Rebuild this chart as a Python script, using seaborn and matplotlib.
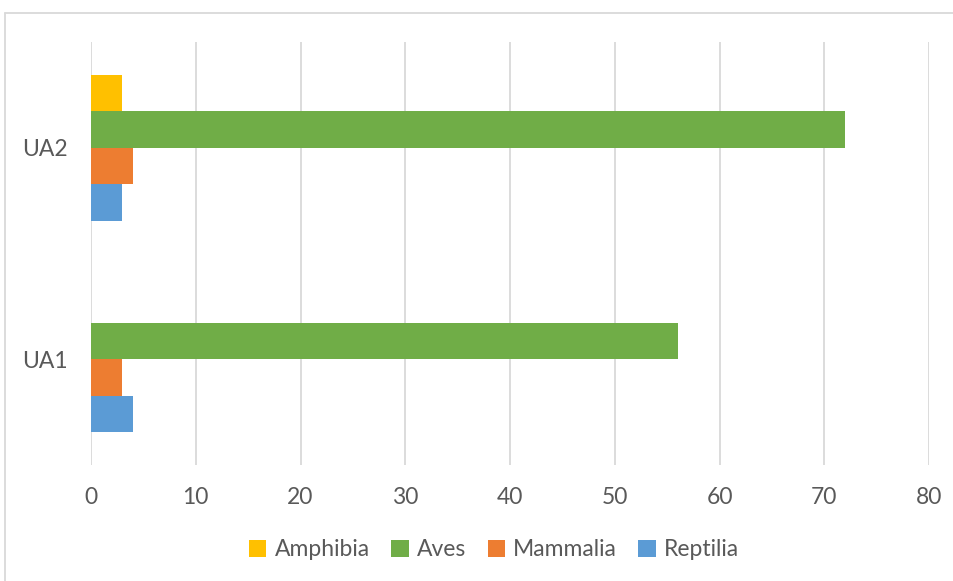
import matplotlib
matplotlib.use("Agg")
import matplotlib.pyplot as plt
from matplotlib.lines import Line2D
from matplotlib.patches import Patch
import pandas as pd
import seaborn as sns

# Species counts per survey unit
units = ["UA2", "UA1"]
classes = ["Amphibia", "Aves", "Mammalia", "Reptilia"]
amphibia = [3, 0]
aves = [72, 56]
mammalia = [4, 3]
reptilia = [3, 4]
x_ticks = [0, 10, 20, 30, 40, 50, 60, 70, 80]

palette = {"Amphibia": "#FFC000", "Aves": "#70AD47",
           "Mammalia": "#ED7D31", "Reptilia": "#5B9BD5"}
text_color = "#595959"
grid_color = "#D9D9D9"

rows = []
for cls, vals in zip(classes, [amphibia, aves, mammalia, reptilia]):
    for unit, v in zip(units, vals):
        rows.append({"unit": unit, "class": cls, "count": v})
df = pd.DataFrame(rows)

sns.set_theme(style="white")
plt.rcParams["font.family"] = ["Lato", "DejaVu Sans"]

W, H = 954, 581
fig = plt.figure(figsize=(W / 100, H / 100), dpi=100)
ax = fig.add_axes([91 / W, 1 - 465 / H, (929 - 91) / W, (465 - 42) / H])

sns.barplot(data=df, x="count", y="unit", hue="class", order=units,
            hue_order=classes, palette=palette, orient="h", width=0.69,
            saturation=1, legend=False, ax=ax, linewidth=0)

ax.set_xlim(0, 80)
ax.set_xticks(x_ticks)
ax.set_xlabel("")
ax.set_ylabel("")
ax.grid(axis="x", color=grid_color, linewidth=1.3)
ax.set_axisbelow(True)
for s in ax.spines.values():
    s.set_visible(False)
ax.tick_params(axis="x", length=0, pad=16, labelsize=16.5, labelcolor=text_color)
ax.tick_params(axis="y", length=0, pad=17, labelsize=16.5, labelcolor=text_color)

# Legend under the plot
handles = [Patch(facecolor=palette[c], edgecolor="none") for c in classes]
fig.legend(handles, classes, loc="center", bbox_to_anchor=(494 / W, 1 - 550 / H),
           ncol=4, frameon=False, fontsize=16.5, labelcolor=text_color,
           handlelength=0.75, handleheight=0.75, handletextpad=0.35,
           columnspacing=0.95)

# Chart area frame (top and left edges)
fig.add_artist(Line2D([5 / W, 1.0], [1 - 13 / H, 1 - 13 / H],
                      transform=fig.transFigure, color=grid_color, linewidth=1.3))
fig.add_artist(Line2D([5 / W, 5 / W], [0.0, 1 - 13 / H],
                      transform=fig.transFigure, color=grid_color, linewidth=1.3))

fig.savefig("out.png", dpi=100, facecolor="white")
